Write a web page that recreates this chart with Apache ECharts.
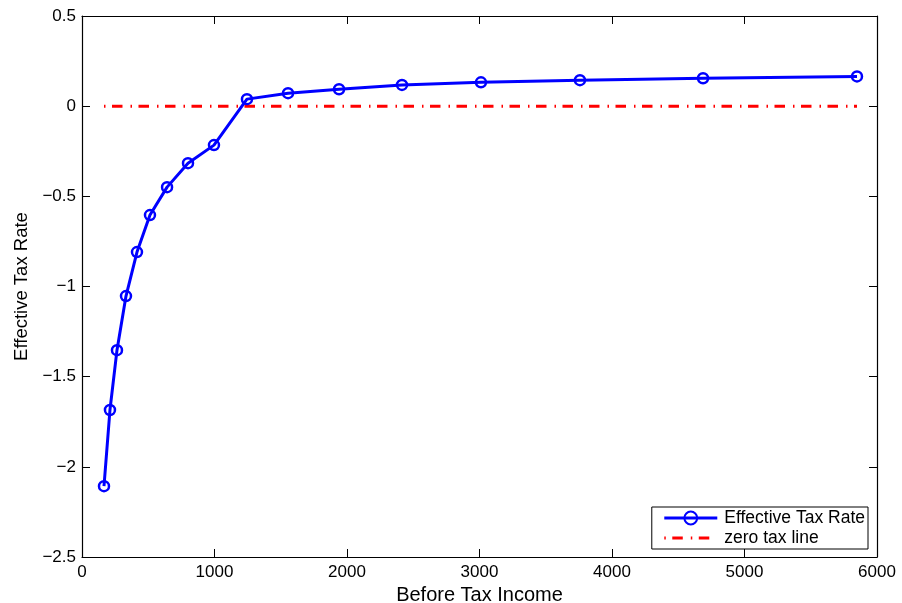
<!DOCTYPE html>
<html>
<head>
<meta charset="utf-8">
<script src="https://cdn.jsdelivr.net/npm/echarts@6/dist/echarts.min.js"></script>
<style>
  html, body { margin: 0; padding: 0; background: #fff; }
  #chart { width: 902px; height: 603px; }
</style>
</head>
<body>
<div id="chart"></div>
<script>
// Before-tax income levels and the effective tax rate at each level
const income = [166, 211, 264, 332, 415, 513, 642, 800, 996, 1245, 1555, 1940, 2415, 3011, 3758, 4687, 5849];
const effectiveRate = [-2.107, -1.685, -1.353, -1.053, -0.809, -0.604, -0.449, -0.316, -0.216, 0.039, 0.072, 0.094, 0.118, 0.132, 0.144, 0.155, 0.165];
// Reference line at zero tax, spanning the same income range
const zeroLineX = [166, 5849];
const zeroLineY = [0, 0];
const xTicks = [0, 1000, 2000, 3000, 4000, 5000, 6000];
const yTicks = [-2.5, -2, -1.5, -1, -0.5, 0, 0.5];

const FONT = 'Liberation Sans, Arial, Helvetica, sans-serif';

const chart = echarts.init(document.getElementById('chart'), null, { renderer: 'canvas' });

const pairs = (xs, ys) => xs.map((x, i) => [x, ys[i]]);

// Tick text: plain "0" and a typographic minus for negatives
const tickFmt = v => (Math.abs(v) < 1e-9 ? '0' : String(v).replace('-', '\u2212'));

const boxLine = { show: true, onZero: false, lineStyle: { color: '#000', width: 1.2 } };
const innerTick = { show: true, inside: true, length: 8, lineStyle: { color: '#000', width: 1 } };

const xRange = { type: 'value', min: xTicks[0], max: xTicks[xTicks.length - 1], interval: 1000 };
const yRange = { type: 'value', min: yTicks[0], max: yTicks[yTicks.length - 1], interval: 0.5 };

chart.setOption({
  animation: false,
  backgroundColor: '#fff',
  grid: { left: 82, right: 25, top: 16, bottom: 46, containLabel: false, outerBoundsMode: 'none' },
  xAxis: [
    Object.assign({}, xRange, {
      position: 'bottom',
      name: 'Before Tax Income', nameLocation: 'middle', nameGap: 17,
      nameTextStyle: { fontFamily: FONT, fontSize: 20, color: '#000' },
      axisLine: boxLine, axisTick: innerTick,
      axisLabel: { fontFamily: FONT, fontSize: 17, color: '#000', margin: 7, formatter: tickFmt },
      splitLine: { show: false }
    }),
    Object.assign({}, xRange, {
      position: 'top',
      axisLine: boxLine, axisTick: innerTick,
      axisLabel: { show: false }, splitLine: { show: false }
    })
  ],
  yAxis: [
    Object.assign({}, yRange, {
      position: 'left',
      name: 'Effective Tax Rate', nameLocation: 'middle', nameGap: 51, nameRotate: 90,
      nameTextStyle: { fontFamily: FONT, fontSize: 18.5, color: '#000' },
      axisLine: boxLine, axisTick: innerTick,
      axisLabel: { fontFamily: FONT, fontSize: 17, color: '#000', margin: 6, formatter: tickFmt },
      splitLine: { show: false }
    }),
    Object.assign({}, yRange, {
      position: 'right',
      axisLine: boxLine, axisTick: innerTick,
      axisLabel: { show: false }, splitLine: { show: false }
    })
  ],
  legend: {
    right: 34, bottom: 54,
    orient: 'vertical',
    align: 'left',
    data: [
      { name: 'Effective Tax Rate' },
      { name: 'zero tax line', itemStyle: { opacity: 0 } }
    ],
    backgroundColor: '#fff',
    borderColor: '#000', borderWidth: 1, borderRadius: 0,
    padding: [2, 3, 2, 11],
    itemGap: 2,
    itemWidth: 53, itemHeight: 16,
    lineStyle: { width: 3 },
    textStyle: { fontFamily: FONT, fontSize: 17.5, color: '#000', padding: [0, 0, 0, 2] }
  },
  series: [
    {
      name: 'zero tax line',
      type: 'line',
      data: pairs(zeroLineX, zeroLineY),
      showSymbol: false, symbol: 'none',
      z: 2,
      lineStyle: { color: '#ff0000', width: 3, type: [1.5, 6.5, 10.5, 8] },
      itemStyle: { color: '#ff0000' }
    },
    {
      name: 'Effective Tax Rate',
      type: 'line',
      data: pairs(income, effectiveRate),
      symbol: 'circle', symbolSize: 10,
      z: 3,
      lineStyle: { color: '#0000ff', width: 3 },
      itemStyle: { color: 'rgba(255,255,255,0)', borderColor: '#0000ff', borderWidth: 2.5 }
    }
  ]
});
</script>
</body>
</html>
